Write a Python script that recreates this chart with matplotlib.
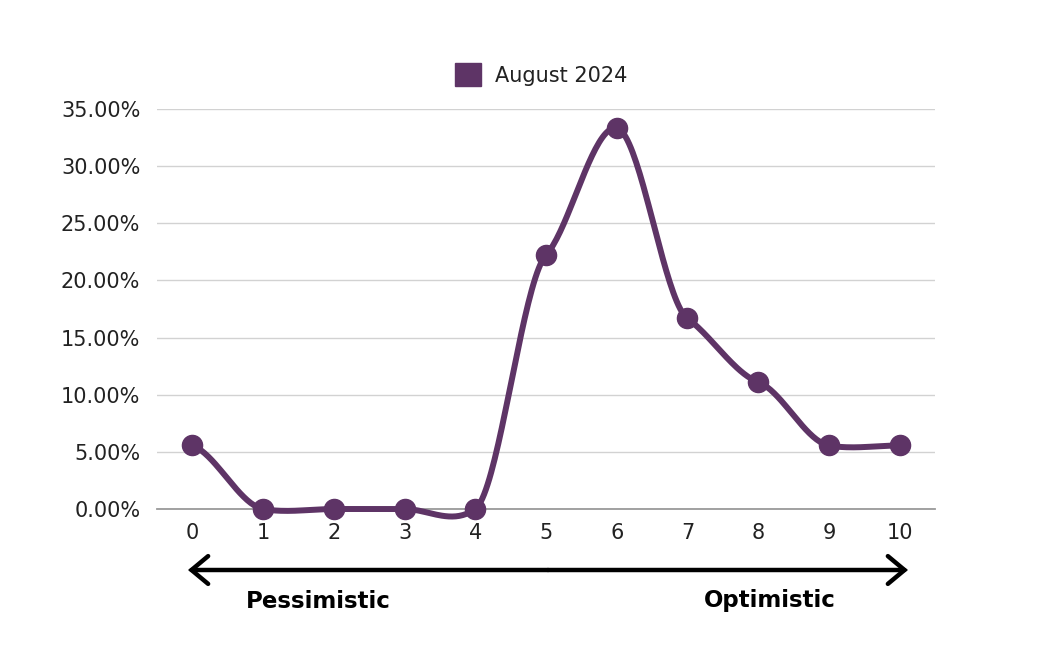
import numpy as np
import matplotlib
matplotlib.use("Agg")
import matplotlib.pyplot as plt
from matplotlib.patches import Patch, FancyArrowPatch
from matplotlib.ticker import FuncFormatter

categories = [0, 1, 2, 3, 4, 5, 6, 7, 8, 9, 10]
values = [5.56, 0.0, 0.0, 0.0, 0.0, 22.22, 33.33, 16.67, 11.11, 5.56, 5.56]
series_name = "August 2024"
y_ticks = [0, 5, 10, 15, 20, 25, 30, 35]
left_label = "Pessimistic"
right_label = "Optimistic"

COLOR = "#5E3466"
TICK_FONT = "DejaVu Sans"
BOLD_FONT = "DejaVu Sans"


def cardinal_spline(x, y, c=0.2, n=40):
    x = np.asarray(x, float)
    y = np.asarray(y, float)
    m = np.zeros_like(y)
    for i in range(len(y)):
        lo = max(i - 1, 0)
        hi = min(i + 1, len(y) - 1)
        m[i] = c * (y[hi] - y[lo]) / ((x[hi] - x[lo]) / 2.0) if hi != lo else 0
    xs, ys = [], []
    for i in range(len(y) - 1):
        t = np.linspace(0, 1, n, endpoint=False)
        h = x[i + 1] - x[i]
        h00 = 2 * t**3 - 3 * t**2 + 1
        h10 = t**3 - 2 * t**2 + t
        h01 = -2 * t**3 + 3 * t**2
        h11 = t**3 - t**2
        xs.append(x[i] + t * h)
        ys.append(h00 * y[i] + h10 * h * m[i] + h01 * y[i + 1] + h11 * h * m[i + 1])
    xs.append([x[-1]])
    ys.append([y[-1]])
    return np.concatenate(xs), np.concatenate(ys)


fig = plt.figure(figsize=(10.45, 6.47), dpi=100)
ax = fig.add_axes([157 / 1045, 138 / 647, 778 / 1045, 400 / 647])

sx, sy = cardinal_spline(categories, values)
ax.plot(sx, sy, color=COLOR, lw=4.3, solid_capstyle="round", zorder=3,
        clip_on=False)
ax.plot(categories, values, "o", color=COLOR, ms=14.5, zorder=4,
        clip_on=False)

ax.set_xlim(-0.5, 10.5)
ax.set_ylim(0, 35)
ax.set_xticks(categories)
ax.set_xticklabels([str(c) for c in categories])
ax.set_yticks(y_ticks)
ax.yaxis.set_major_formatter(FuncFormatter(lambda v, p: f"{v:.2f}%"))
ax.grid(axis="y", color="#d2d2d2", lw=1)
ax.set_axisbelow(True)
for s in ["top", "right", "left"]:
    ax.spines[s].set_visible(False)
ax.spines["bottom"].set_color("#9a9a9a")
ax.spines["bottom"].set_linewidth(1.3)
ax.spines["bottom"].set_zorder(2)
ax.tick_params(length=0)
ax.tick_params(axis="y", pad=12)
ax.tick_params(axis="x", pad=10)
for lab in ax.get_xticklabels() + ax.get_yticklabels():
    lab.set_fontfamily(TICK_FONT)
    lab.set_fontsize(15)
    lab.set_color("#222222")

leg = ax.legend(handles=[Patch(color=COLOR, label=series_name)],
                loc="center", bbox_to_anchor=(541 / 1045, 1 - 74.5 / 647),
                bbox_transform=fig.transFigure, frameon=False,
                handlelength=1.25, handleheight=1.25, handletextpad=0.65,
                prop={"family": TICK_FONT, "size": 15})
for t in leg.get_texts():
    t.set_color("#222222")

# direction arrows
y_arrow = 1 - 570 / 647
for x_end in (188 / 1045, 908 / 1045):
    arr = FancyArrowPatch((548 / 1045, y_arrow), (x_end, y_arrow),
                          transform=fig.transFigure,
                          arrowstyle="->,head_length=0.6,head_width=0.5",
                          mutation_scale=20, lw=3.2, color="black",
                          shrinkA=0, shrinkB=0, capstyle="round",
                          joinstyle="miter")
    fig.patches.append(arr)

fig.text(318.5 / 1045, 1 - 601 / 647, left_label, ha="center", va="center",
         fontsize=16.5, fontweight="bold", family=BOLD_FONT, color="black")
fig.text(769.5 / 1045, 1 - 601 / 647, right_label, ha="center", va="center",
         fontsize=16.5, fontweight="bold", family=BOLD_FONT, color="black")

fig.savefig("out.png", dpi=100, facecolor="white")
